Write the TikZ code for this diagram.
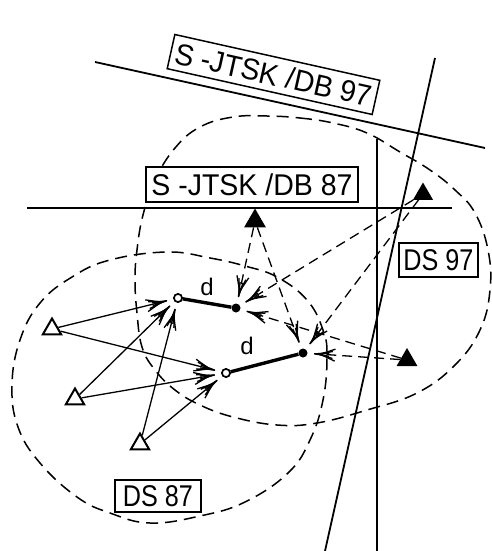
\documentclass[tikz,border=0pt]{standalone}
\usepackage{fontspec}
\setmainfont{Liberation Sans}
\newfontfamily\dbfont[FakeStretch=0.95]{Liberation Sans}
\newfontfamily\dsfont[FakeStretch=0.84]{Liberation Sans}
\usetikzlibrary{arrows.meta,shapes.geometric}
\begin{document}
\begin{tikzpicture}[x=1pt,y=-1pt,
  refline/.style={line width=1.8pt},
  zone/.style={line width=1.5pt, dash pattern=on 12pt off 7pt},
  feather/.style={-{Straight Barb[length=15pt,width=12pt,sep=-15pt]Straight Barb[length=15pt,width=7pt,sep=-15pt]Straight Barb[length=15pt,width=3pt]}},
  obs/.style={line width=1.3pt, feather},
  dobs/.style={line width=1.3pt, dash pattern=on 10pt off 6pt, feather},
  vec/.style={line width=3.4pt},
  opentri/.style={regular polygon, regular polygon sides=3, draw, line width=2pt, minimum size=21pt, inner sep=0pt, fill=white},
  filltri/.style={regular polygon, regular polygon sides=3, fill=black, inner sep=0pt},
  newpt/.style={circle, draw, fill=white, line width=1.6pt, minimum size=8pt, inner sep=0pt},
  oldpt/.style={circle, fill=black, minimum size=9pt, inner sep=0pt},
  lab/.style={draw, fill=white, line width=1.5pt, inner sep=0pt, font=\dbfont\fontsize{30}{30}\selectfont},
  dslab/.style={draw, fill=white, line width=1.5pt, inner sep=0pt, font=\dsfont\fontsize{30}{30}\selectfont},
  dlab/.style={font=\fontsize{24}{24}\selectfont, inner sep=0pt}
]
\useasboundingbox (0,0) rectangle (491,551);
\fill[white] (0,0) rectangle (491,551);

% reference lines
\draw[refline] (95,62) -- (485,148);
\draw[refline] (27,208) -- (452,208);
\draw[refline] (377,139) -- (377,551);
\draw[refline] (435,58) -- (325,551);

% zones
\draw[zone] plot[smooth cycle, tension=0.7] coordinates {
  (167,252) (210,258) (245,266) (277,277) (307,300) (323,330) (327,357)
  (323,400) (310,440) (288,473) (245,502) (200,516) (150,523) (110,513)
  (77,497) (40,463) (18,427) (12,385) (20,340) (40,303) (72,277) (110,260)};
\draw[zone] plot[smooth cycle, tension=0.7] coordinates {
  (267,116) (300,118) (333,123) (367,133) (400,152) (430,170) (455,190)
  (475,213) (488,250) (490,290) (480,330) (455,365) (417,393) (367,410)
  (317,423) (277,425) (233,417) (200,405) (175,390) (155,370) (142,347)
  (137,313) (135,280) (137,250) (143,215) (155,180) (175,148) (200,127) (233,117)};

% points
\node[opentri] (T1) at (52,329) {};
\node[opentri] (T2) at (75,399) {};
\node[opentri] (T3) at (140,444) {};
\node[filltri, minimum size=25pt] (F1) at (255,221) {};
\node[filltri, minimum size=23pt] (F2) at (423,194) {};
\node[filltri, minimum size=24pt] (F3) at (407,360) {};
\node[newpt] (A1) at (178,298) {};
\node[newpt] (A2) at (226,373) {};
\node[oldpt] (B1) at (236,308) {};
\node[oldpt] (B2) at (303,353) {};

% observations
\draw[obs] (T1) -- (A1);
\draw[obs] (T1) -- (A2);
\draw[obs] (T2) -- (A1);
\draw[obs] (T2) -- (A2);
\draw[obs] (T3) -- (A1);
\draw[obs] (T3) -- (A2);
\draw[dobs] (F1) -- (B1);
\draw[dobs] (F1) -- (B2);
\draw[dobs] (F2) -- (B1);
\draw[dobs] (F2) -- (B2);
\draw[dobs] (F3) -- (B1);
\draw[dobs] (F3) -- (B2);

% vectors
\draw[vec] (A1) -- (B1);
\draw[vec] (A2) -- (B2);
\node[newpt] at (A1) {};
\node[newpt] at (A2) {};

\node[dlab] (d1) at (207,287) {d};
\node[dlab] (d2) at (247,346) {d};

% labels
\node[lab, rotate=-12.6, minimum width=210pt, minimum height=35pt] (L97) at (273.5,74.5) {S -JTSK /DB 97};
\node[lab, minimum width=212pt, minimum height=35pt] (L87) at (252,184.5) {S -JTSK /DB 87};
\node[dslab, minimum width=79pt, minimum height=34pt] (D97) at (438.5,260) {DS 97};
\node[dslab, minimum width=86pt, minimum height=32pt] (D87) at (158,496) {DS 87};
\end{tikzpicture}
\end{document}
